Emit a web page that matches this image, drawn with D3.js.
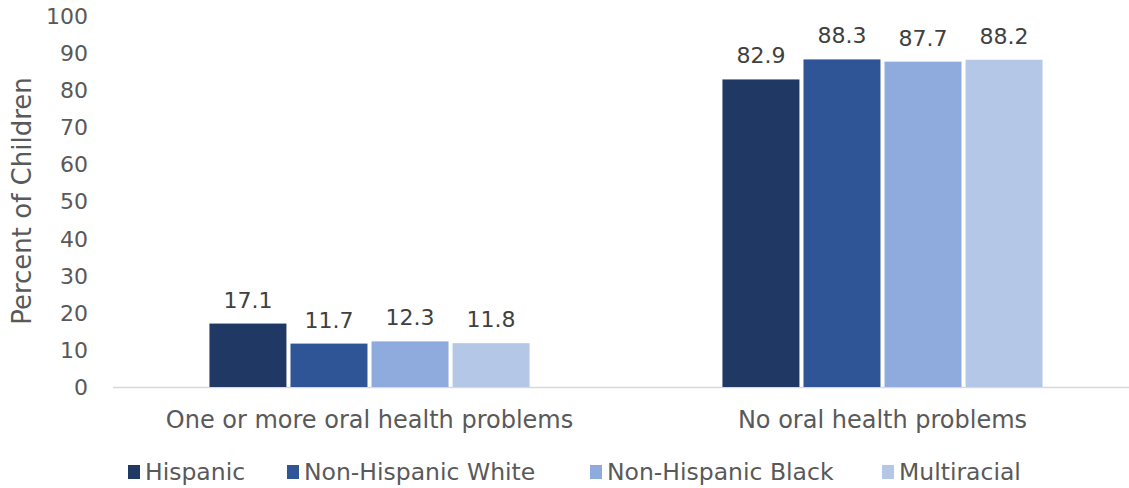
<!DOCTYPE html>
<html><head><meta charset="utf-8">
<script src="https://cdn.jsdelivr.net/npm/d3@7"></script>
<style>body{margin:0;background:#fff}svg{display:block}text{font-family:"DejaVu Sans",Verdana,sans-serif}</style>
</head><body><svg id="c" width="1129" height="488"></svg>
<script>
const categories = ["One or more oral health problems", "No oral health problems"];
const seriesNames = ["Hispanic", "Non-Hispanic White", "Non-Hispanic Black", "Multiracial"];
const hispanic = [17.1, 82.9];
const nhWhite = [11.7, 88.3];
const nhBlack = [12.3, 87.7];
const multiracial = [11.8, 88.2];
const yTicks = [0, 10, 20, 30, 40, 50, 60, 70, 80, 90, 100];
const colors = ["#203864", "#2F5597", "#8FAADC", "#B4C7E7"];

const seriesValues = [hispanic, nhWhite, nhBlack, multiracial];
const svg = d3.select("#c");
const y = d3.scaleLinear().domain([0, 100]).range([387, 16]);
const x0 = d3.scaleBand().domain(categories).range([113, 1139]).paddingInner(0.376).paddingOuter(0.188);
const x1 = d3.scaleBand().domain(seriesNames).range([0, x0.bandwidth()]).paddingInner(0.05);

// y tick labels
svg.append("g").selectAll("text").data(yTicks).join("text")
  .attr("x", 88).attr("y", d => y(d)).attr("dy", "0.36em")
  .attr("text-anchor", "end").attr("font-size", 22).attr("fill", "#595959")
  .text(d => d);

// baseline
svg.append("line").attr("x1", 113).attr("x2", 1129).attr("y1", y(0) + 0.5).attr("y2", y(0) + 0.5)
  .attr("stroke", "#D9D9D9").attr("stroke-width", 1.5);

// bars
const groups = svg.append("g").selectAll("g").data(categories).join("g")
  .attr("transform", d => `translate(${x0(d)},0)`);
groups.each(function(cat, ci) {
  const g = d3.select(this);
  const rows = seriesNames.map((s, si) => ({s, si, v: seriesValues[si][ci]}));
  g.selectAll("rect").data(rows).join("rect")
    .attr("x", d => x1(d.s)).attr("width", x1.bandwidth())
    .attr("y", d => y(d.v)).attr("height", d => y(0) - y(d.v))
    .attr("fill", d => colors[d.si]);
  g.selectAll("text").data(rows).join("text")
    .attr("x", d => x1(d.s) + x1.bandwidth() / 2).attr("y", d => y(d.v) - 16)
    .attr("text-anchor", "middle").attr("font-size", 22).attr("fill", "#404040")
    .text(d => d.v.toFixed(1));
});

// category labels
svg.append("g").selectAll("text").data(categories).join("text")
  .attr("x", d => x0(d) + x0.bandwidth() / 2).attr("y", 428)
  .attr("text-anchor", "middle").attr("font-size", 24).attr("fill", "#595959")
  .text(d => d);

// y title
svg.append("text").attr("transform", "translate(31,201) rotate(-90)")
  .attr("text-anchor", "middle").attr("font-size", 26).attr("fill", "#595959")
  .text("Percent of Children");

// legend
const legX = [128, 287, 590, 882];
const leg = svg.append("g").selectAll("g").data(seriesNames).join("g")
  .attr("transform", (d, i) => `translate(${legX[i]},472)`);
leg.append("rect").attr("x", 0).attr("y", -7).attr("width", 12).attr("height", 14)
  .attr("fill", (d, i) => colors[i]);
leg.append("text").attr("x", 17).attr("y", 0).attr("dy", "0.36em")
  .attr("font-size", 23.5).attr("fill", "#595959").text(d => d);
</script></body></html>
